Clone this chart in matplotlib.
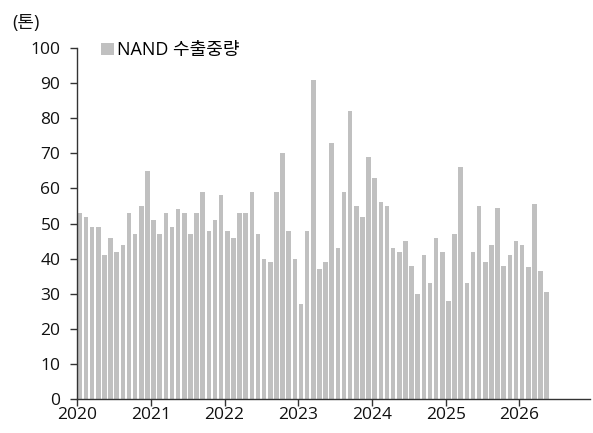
import matplotlib
matplotlib.use('Agg')
import matplotlib.pyplot as plt
import numpy as np

plt.rcParams['font.family'] = ['Open Sans', 'Noto Sans CJK KR', 'DejaVu Sans']

# 월별 NAND 수출중량 (톤), 2020.01 ~ 2026.05
years = ['2020', '2021', '2022', '2023', '2024', '2025', '2026']
nand = [
    53, 52, 49, 49, 41, 46, 42, 44, 53, 47, 55, 65,   # 2020
    51, 47, 53, 49, 54, 53, 47, 53, 59, 48, 51, 58,   # 2021
    48, 46, 53, 53, 59, 47, 40, 39, 59, 70, 48, 40,   # 2022
    27, 48, 91, 37, 39, 73, 43, 59, 82, 55, 52, 69,   # 2023
    63, 56, 55, 43, 42, 45, 38, 30, 41, 33, 46, 42,   # 2024
    28, 47, 66, 33, 42, 55, 39, 44, 54.5, 38, 41, 45, # 2025
    44, 37.5, 55.5, 36.5, 30.5,                        # 2026
]

fig = plt.figure(figsize=(5.93, 4.33), dpi=100)
ax = fig.add_axes([0.130, 0.0785, 0.865, 0.8105])

x = np.arange(len(nand))
ax.bar(x + 0.45, nand, width=0.76, color='#c0c0c0', label='NAND 수출중량')

ax.set_ylim(0, 100)
ax.set_yticks(np.arange(0, 101, 10))
ax.set_xlim(0, 83.5)
ax.set_xticks(np.arange(0, 12 * len(years), 12))
ax.set_xticklabels(years)

for s in ['top', 'right']:
    ax.spines[s].set_visible(False)
for s in ['left', 'bottom']:
    ax.spines[s].set_color('#333333')
    ax.spines[s].set_linewidth(1.0)

ax.tick_params(axis='both', direction='out', length=5, width=1, color='#333333',
               labelsize=12.5, labelcolor='#111111')
ax.tick_params(axis='y', pad=7)
ax.tick_params(axis='x', pad=1)

ax.legend(loc='upper left', bbox_to_anchor=(0.033, 1.04), frameon=False,
          fontsize=13, handlelength=0.7, handleheight=0.7, handletextpad=0.2,
          borderaxespad=0)

fig.text(0.02, 1 - 23 / 433, '(톤)', fontsize=13, va='center', ha='left', color='#111111')

plt.savefig('out.png', dpi=100)
